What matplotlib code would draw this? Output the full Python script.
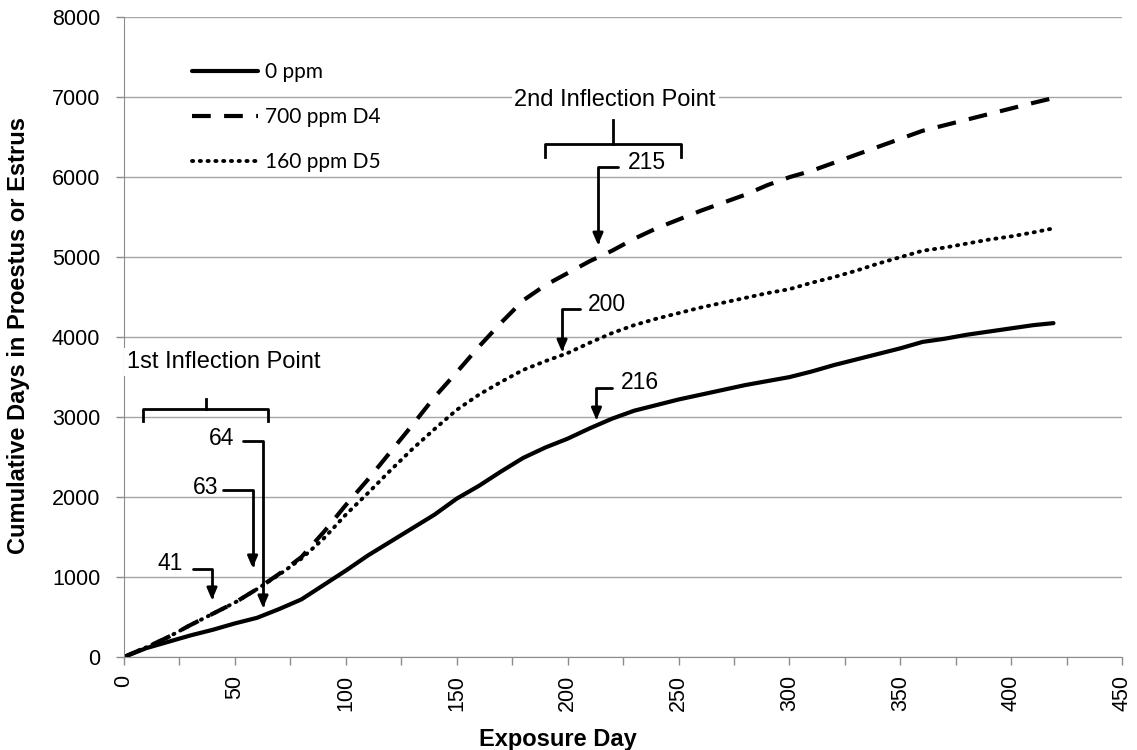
import numpy as np
from matplotlib import pyplot as plt

# exposure day and cumulative days in proestrus/estrus
days = [0, 10, 20, 30, 40, 50, 60, 70, 80, 90, 100, 110, 120, 130, 140, 150,
        160, 170, 180, 190, 200, 210, 220, 230, 240, 250, 260, 270, 280, 290,
        300, 310, 320, 330, 340, 350, 360, 370, 380, 390, 400, 410, 419]
ctrl = [0, 110, 190, 270, 340, 420, 490, 600, 720, 900, 1080, 1270, 1440,
        1610, 1780, 1980, 2140, 2320, 2490, 2620, 2730, 2860, 2980, 3080,
        3150, 3220, 3280, 3340, 3400, 3450, 3500, 3570, 3650, 3720, 3790,
        3860, 3940, 3980, 4030, 4070, 4110, 4150, 4175]
d4 = [0, 120, 250, 400, 540, 680, 850, 1040, 1250, 1560, 1900, 2220, 2560,
      2900, 3250, 3560, 3880, 4180, 4460, 4650, 4800, 4950, 5080, 5230, 5360,
      5470, 5580, 5680, 5780, 5900, 6000, 6080, 6180, 6280, 6380, 6480, 6580,
      6650, 6720, 6790, 6860, 6930, 6990]
d5 = [0, 120, 250, 400, 540, 680, 850, 1030, 1230, 1480, 1780, 2050, 2330,
      2600, 2850, 3090, 3280, 3440, 3590, 3700, 3800, 3930, 4050, 4150, 4230,
      4300, 4370, 4430, 4490, 4550, 4600, 4680, 4750, 4830, 4920, 5000, 5080,
      5120, 5170, 5220, 5260, 5310, 5360]
labels = ['0 ppm', '700 ppm D4', '160 ppm D5']

# arrow callouts: label, label pos, elbow start, arrow tip, text alignment
callouts = [
    ('41', (26.6, 1175), (31.1, 1100), (39.7, 712), 'right'),
    ('63', (42.4, 2125), (44.6, 2087), (58.0, 1112), 'right'),
    ('64', (49.6, 2737), (53.7, 2700), (62.7, 612), 'right'),
    ('200', (209.2, 4412), (205.6, 4350), (197.5, 3812), 'left'),
    ('216', (224.1, 3437), (220.0, 3362), (213.0, 2962), 'left'),
    ('215', (227.2, 6187), (222.7, 6125), (213.7, 5150), 'left'),
]
# brackets: x0, x1, y top, y ends, stem top, title, title pos
brackets = [
    (8.6, 65.0, 3100, 2950, 3225, '1st Inflection Point', (45.0, 3687)),
    (189.8, 251.0, 6412, 6250, 6712, '2nd Inflection Point', (221.4, 6962)),
]

fig = plt.figure(figsize=(11.37, 7.5), dpi=100)
ax = fig.add_axes([0.109, 0.124, 0.878, 0.853])

ax.plot(days, ctrl, color='black', lw=3, solid_capstyle='round', label=labels[0])
ax.plot(days, d4, color='black', lw=3, dashes=(4.5, 3.2), label=labels[1])
ax.plot(days, d5, color='black', lw=2.8, dashes=(0.3, 1.7), dash_capstyle='round',
        label=labels[2])

ax.set_xlim(0, 450)
ax.set_ylim(0, 8000)
ax.set_xticks(np.arange(0, 451, 50))
ax.set_xticks(np.arange(25, 450, 50), minor=True)
ax.set_yticks(np.arange(0, 8001, 1000))
ax.grid(axis='y', color='#a6a6a6', lw=1)
ax.set_axisbelow(True)
for s in ['top', 'right']:
    ax.spines[s].set_visible(False)
for s in ['left', 'bottom']:
    ax.spines[s].set_color('#8c8c8c')
ax.tick_params(axis='both', which='both', color='#8c8c8c', length=6, width=1)
ax.tick_params(axis='y', pad=11)
ax.tick_params(axis='x', labelrotation=90, pad=7)
for t in ax.get_xticklabels() + ax.get_yticklabels():
    t.set_fontfamily('Liberation Sans')
    t.set_fontsize(15.5)

ax.set_xlabel('Exposure Day', fontfamily='Liberation Sans', fontsize=17,
              fontweight='bold')
ax.xaxis.set_label_coords(0.435, -0.111)
ax.set_ylabel('Cumulative Days in Proestus or Estrus', fontfamily='Liberation Sans',
              fontsize=17, fontweight='bold')
ax.yaxis.set_label_coords(-0.094, 0.503)

leg = ax.legend(loc='upper left', bbox_to_anchor=(0.068, 0.93), frameon=False,
                borderpad=0, borderaxespad=0, handlelength=3.2, handletextpad=0.3,
                labelspacing=1.2, prop={'family': 'Lato', 'size': 15})

for txt, tpos, start, tip, ha in callouts:
    ax.annotate('', xy=tip, xytext=start,
                arrowprops=dict(arrowstyle='-|>,head_length=0.7,head_width=0.3',
                                connectionstyle='angle,angleA=0,angleB=90,rad=0',
                                color='black', lw=2, shrinkA=0, shrinkB=0))
    ax.text(tpos[0], tpos[1], txt, ha=ha, va='center', fontsize=16.5,
            fontfamily='Liberation Sans')

for x0, x1, ytop, yend, ystem, title, tpos in brackets:
    xm = (x0 + x1) / 2
    ax.plot([x0, x0, x1, x1], [yend, ytop, ytop, yend], color='black', lw=2)
    ax.plot([xm, xm], [ytop, ystem], color='black', lw=2)
    ax.text(tpos[0], tpos[1], title, ha='center', va='center', fontsize=17,
            fontfamily='Liberation Sans',
            bbox=dict(facecolor='white', edgecolor='none', pad=2))

fig.savefig('out.png', dpi=100)
